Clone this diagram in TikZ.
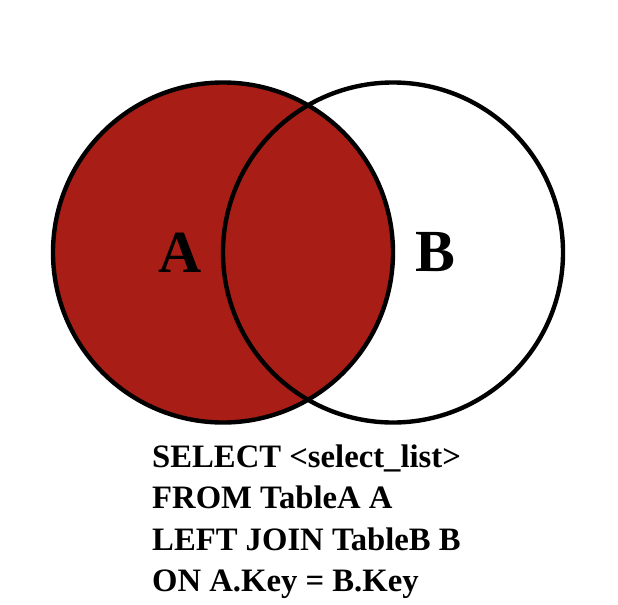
\documentclass[tikz,border=0pt]{standalone}
\usepackage{fontspec}
\setmainfont{Liberation Serif}
\definecolor{vermelho}{RGB}{168,30,22}

\begin{document}
\begin{tikzpicture}[
    line width=2.5pt,
    conjunto/.style={draw, circle, minimum size=6.8cm, inner sep=0pt},
    rotulo/.style={font=\fontsize{34}{34}\selectfont\bfseries, inner sep=0pt},
    consulta/.style={font=\fontsize{18.6}{23.6}\selectfont\bfseries, align=left, inner sep=0pt, anchor=north west},
  ]
  \useasboundingbox (0,0) rectangle (12.36,12.08);

  % Conjuntos
  \node[conjunto, fill=vermelho] (setA) at (4.46,7.03) {};
  \node[conjunto] (setB) at (7.86,7.03) {};
  \node[rotulo] (labelA) at (3.60,7.03) {A};
  \node[rotulo] (labelB) at (8.70,7.03) {B};

  % Consulta
  \node[consulta] (query) at (3.00,3.23)
    {SELECT <select\_list>\\FROM TableA A\\LEFT JOIN TableB B\\ON A.Key = B.Key};
\end{tikzpicture}
\end{document}
